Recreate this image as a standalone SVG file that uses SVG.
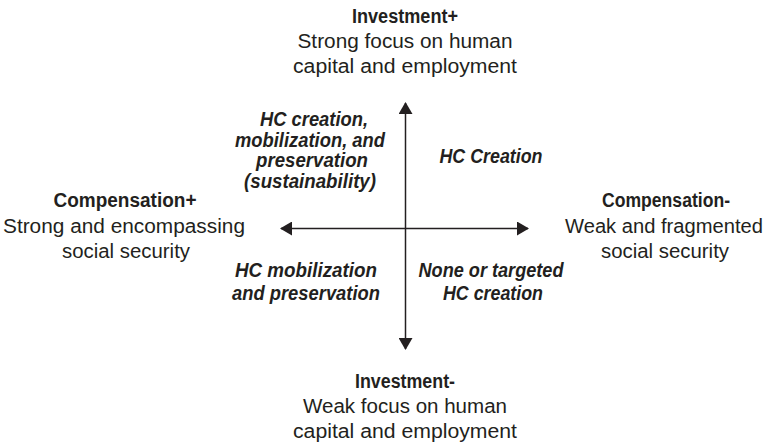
<svg xmlns="http://www.w3.org/2000/svg" width="767" height="447" viewBox="0 0 767 447">
<style>
text{font-family:"Liberation Sans",Arial,sans-serif;font-size:20px;fill:#231f20;text-anchor:middle}
.b{font-weight:bold}
.bi{font-weight:bold;font-style:italic}
.ax{stroke:#231f20;stroke-width:1.5;fill:none}
</style>
<defs>
<marker id="ah" markerUnits="userSpaceOnUse" markerWidth="12" markerHeight="14" refX="11" refY="7" orient="auto-start-reverse" viewBox="0 0 12 14">
<path d="M0,0 L12,7 L0,14 z" fill="#231f20"/>
</marker>
</defs>
<g id="connectors">
<line class="ax" x1="405.5" y1="103" x2="405.5" y2="349" marker-start="url(#ah)" marker-end="url(#ah)"/>
<line class="ax" x1="281" y1="228.5" x2="528" y2="228.5" marker-start="url(#ah)" marker-end="url(#ah)"/>
</g>
<g id="investment-plus">
<text class="b" x="405" y="23" textLength="106" lengthAdjust="spacingAndGlyphs">Investment+</text>
<text x="405" y="48" textLength="215" lengthAdjust="spacingAndGlyphs">Strong focus on human</text>
<text x="405" y="73" textLength="224" lengthAdjust="spacingAndGlyphs">capital and employment</text>
</g>
<g id="investment-minus">
<text class="b" x="405" y="388" textLength="100" lengthAdjust="spacingAndGlyphs">Investment-</text>
<text x="405" y="413" textLength="204" lengthAdjust="spacingAndGlyphs">Weak focus on human</text>
<text x="405" y="438" textLength="224" lengthAdjust="spacingAndGlyphs">capital and employment</text>
</g>
<g id="compensation-plus">
<text class="b" x="125" y="207" textLength="143" lengthAdjust="spacingAndGlyphs">Compensation+</text>
<text x="124" y="233" textLength="242" lengthAdjust="spacingAndGlyphs">Strong and encompassing</text>
<text x="126" y="258" textLength="128" lengthAdjust="spacingAndGlyphs">social security</text>
</g>
<g id="compensation-minus">
<text class="b" x="666" y="207" textLength="128" lengthAdjust="spacingAndGlyphs">Compensation-</text>
<text x="664" y="233" textLength="198" lengthAdjust="spacingAndGlyphs">Weak and fragmented</text>
<text x="665" y="258" textLength="128" lengthAdjust="spacingAndGlyphs">social security</text>
</g>
<g id="q-top-left">
<text class="bi" x="314" y="126" textLength="108" lengthAdjust="spacingAndGlyphs">HC creation,</text>
<text class="bi" x="310" y="147" textLength="150" lengthAdjust="spacingAndGlyphs">mobilization, and</text>
<text class="bi" x="312" y="167" textLength="112" lengthAdjust="spacingAndGlyphs">preservation</text>
<text class="bi" x="310" y="188" textLength="132" lengthAdjust="spacingAndGlyphs">(sustainability)</text>
</g>
<g id="q-top-right">
<text class="bi" x="491" y="163" textLength="103" lengthAdjust="spacingAndGlyphs">HC Creation</text>
</g>
<g id="q-bottom-left">
<text class="bi" x="306" y="277" textLength="142" lengthAdjust="spacingAndGlyphs">HC mobilization</text>
<text class="bi" x="306" y="300" textLength="148" lengthAdjust="spacingAndGlyphs">and preservation</text>
</g>
<g id="q-bottom-right">
<text class="bi" x="491" y="277" textLength="145" lengthAdjust="spacingAndGlyphs">None or targeted</text>
<text class="bi" x="493" y="300" textLength="100" lengthAdjust="spacingAndGlyphs">HC creation</text>
</g>
</svg>
